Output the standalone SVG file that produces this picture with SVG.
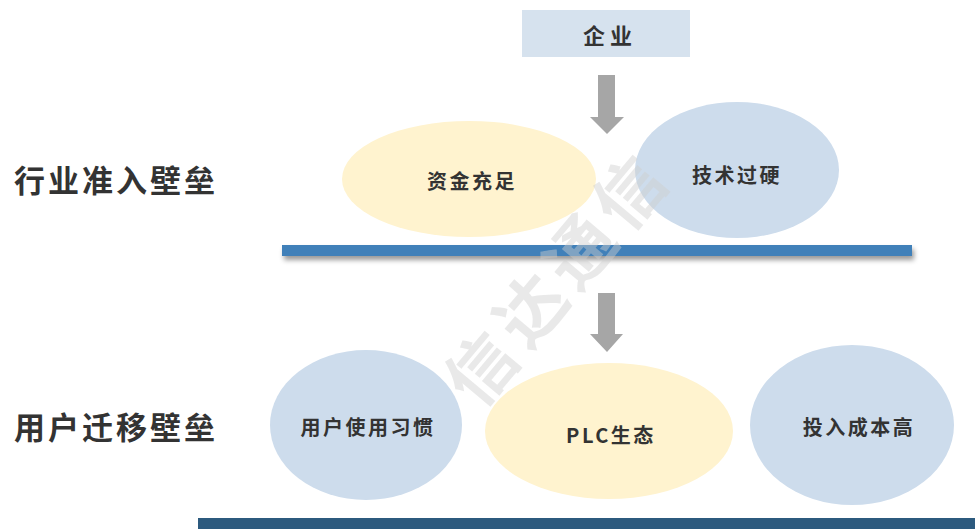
<svg xmlns="http://www.w3.org/2000/svg" width="975" height="529" viewBox="0 0 975 529">
<defs>
<style>
.lbl{font-family:"Noto Sans CJK SC","Noto Sans",sans-serif;font-weight:bold;fill:#333;text-anchor:middle;dominant-baseline:central}
.side{font-size:31px;letter-spacing:3px}
.node{font-size:20px;letter-spacing:2.5px}
.yel{fill:#fff3cf}
.blu{fill:#cddcec}
.arrow{fill:#a6a6a6}
.wm{font-family:"Noto Sans CJK SC",sans-serif;font-weight:bold;font-size:68px;fill:#cfcfcf;opacity:0.45;text-anchor:middle;dominant-baseline:central}
</style>
<filter id="sh" x="-5%" y="-100%" width="110%" height="400%">
<feDropShadow dx="2" dy="4" stdDeviation="2.5" flood-color="#000" flood-opacity="0.4"/>
</filter>
</defs>
<rect width="975" height="529" fill="#fff"/>
<text class="lbl side" x="116" y="178">行业准入壁垒</text>
<text class="lbl side" x="116" y="425">用户迁移壁垒</text>
<g id="node-qiye">
<rect x="522" y="10" width="168" height="47" fill="#d6e2ee"/>
<text class="lbl" x="610" y="34" font-size="22" letter-spacing="5">企业</text>
</g>
<g id="connectors">
<polygon class="arrow" points="598,75 615,75 615,117 624,117 607,134 590,117 598,117"/>
<polygon class="arrow" points="598,293 615,293 615,334 623,334 607,352 590,334 598,334"/>
</g>
<g id="node-zijin">
<ellipse class="yel" cx="469" cy="179" rx="127" ry="58"/>
<text class="lbl node" x="472" y="180">资金充足</text>
</g>
<g id="node-jishu">
<ellipse class="blu" cx="737" cy="170" rx="102" ry="68"/>
<text class="lbl node" x="737" y="174">技术过硬</text>
</g>
<g id="bar1">
<rect x="282" y="245" width="630" height="11" fill="#3f80b9" filter="url(#sh)"/>
</g>
<g id="node-yonghu">
<ellipse class="blu" cx="366" cy="425" rx="96" ry="75"/>
<text class="lbl node" x="368" y="426">用户使用习惯</text>
</g>
<g id="node-plc">
<ellipse class="yel" cx="609" cy="431" rx="124" ry="68"/>
<text class="lbl node" x="611" y="434">PLC生态</text>
</g>
<g id="node-touru">
<ellipse class="blu" cx="852" cy="425" rx="102" ry="80"/>
<text class="lbl node" x="859" y="426">投入成本高</text>
</g>
<g id="bar2">
<rect x="198" y="518" width="777" height="11" fill="#2c5a7e"/>
</g>
<g id="watermark" transform="translate(552,278) rotate(-50)">
<text class="wm" x="-115" y="0">信</text>
<text class="wm" x="-38" y="0">达</text>
<text class="wm" x="38" y="0">通</text>
<text class="wm" x="115" y="0">信</text>
</g>
</svg>
